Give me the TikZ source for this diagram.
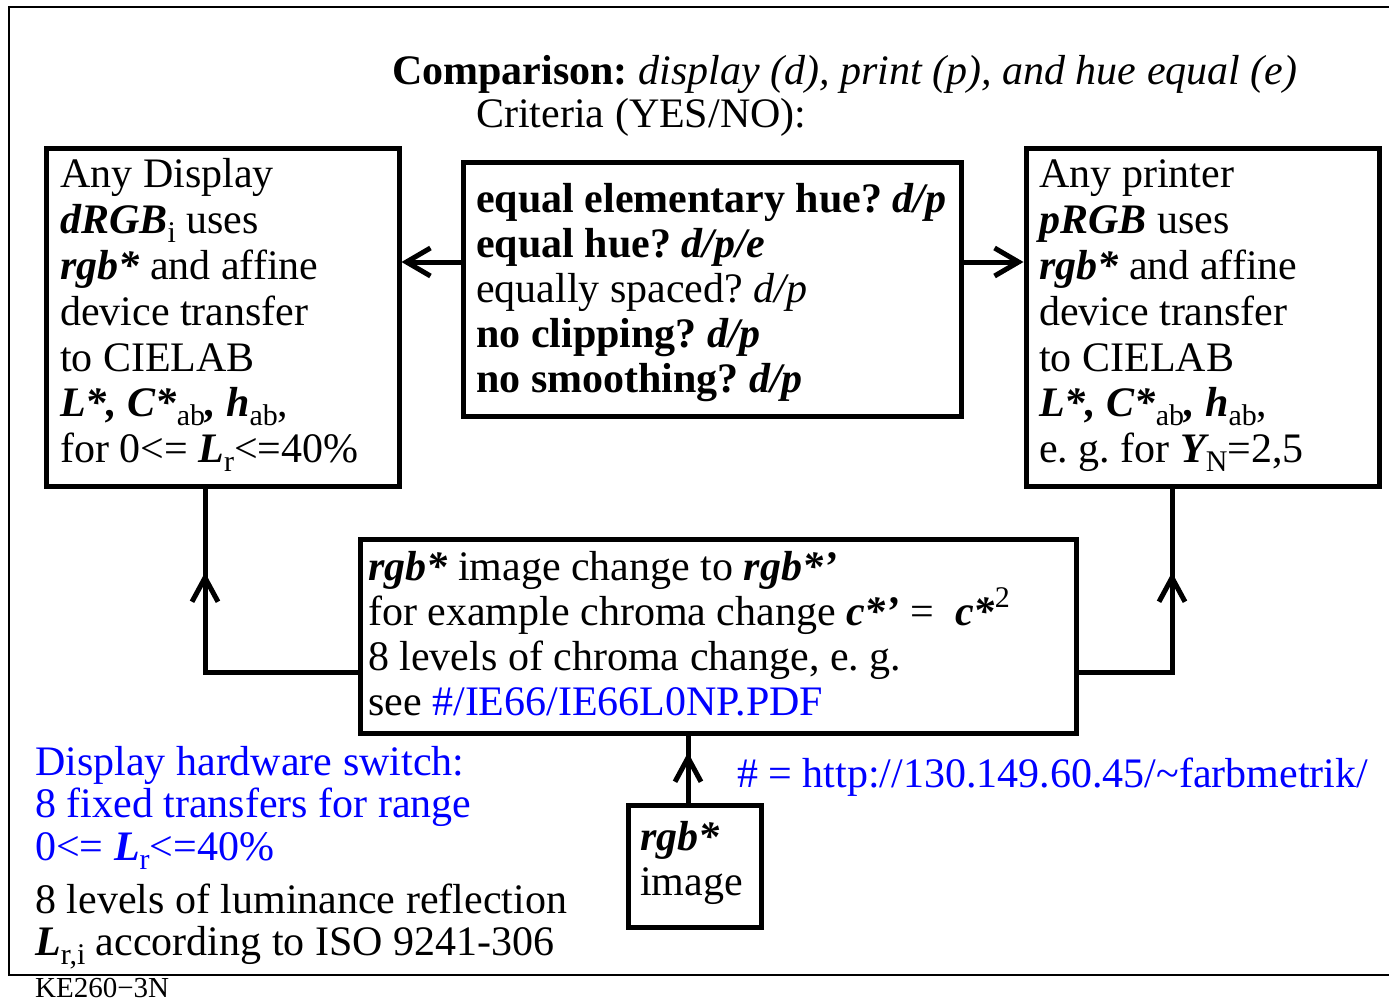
\documentclass[tikz,border=0pt]{standalone}
\usepackage{fontspec}
\setmainfont{Liberation Serif}
\usetikzlibrary{arrows.meta,decorations.markings}
\frenchspacing

% bold italic, subscript and superscript helpers
\newcommand\bi[1]{{\bfseries\itshape #1}}
\newcommand\dn[1]{\raisebox{-9pt}{\fontsize{30}{33}\selectfont\mdseries\upshape #1}}
\newcommand\up[1]{\raisebox{18pt}{\fontsize{30}{33}\selectfont\mdseries\upshape #1}}
% left-aligned lines with a fixed baseline distance; the baseline is that of the first line
\newcommand\textlines[2]{\vtop{\baselineskip=#1\lineskiplimit=-100pt\lineskip=0pt\halign{##\hfil\cr#2\crcr}}}

\definecolor{linkblue}{RGB}{0,0,255}

\begin{document}
\begin{tikzpicture}[x=1pt,y=-1pt,
  >={Straight Barb[length=24pt,width=28pt,line width=5pt]},
  box/.style={draw,line width=5pt,inner sep=0pt},
  txt/.style={anchor=base west,inner sep=0pt,font=\fontsize{42}{45.8}\selectfont},
  link/.style={line width=5pt},
  midarrow/.style={postaction={decorate,decoration={markings,
      mark=at position #1 with {\arrow{Straight Barb[length=24pt,width=26pt,line width=5pt]}}}}}
]
\useasboundingbox (0,0) rectangle (1389,1003);

% page frame
\draw[line width=2.5pt] (1389,7) -- (9,7) -- (9,975) -- (1389,975);

% heading
\node[txt] (title) at (392,85) {\textbf{Comparison:} \textit{display (d), print (p), and hue equal (e)}};
\node[txt] (crit) at (476,128) {Criteria (YES/NO):};

% boxes
\node[box,minimum width=353pt,minimum height=337pt] (lbox) at (222.5,317.5) {};
\node[box,minimum width=498pt,minimum height=253pt] (cbox) at (712,289.5) {};
\node[box,minimum width=353pt,minimum height=337pt] (rbox) at (1202.5,317.5) {};
\node[box,minimum width=716pt,minimum height=194pt] (bot) at (718,636) {};
\node[box,minimum width=133pt,minimum height=122pt] (img) at (694.5,866) {};

% box texts
\node[txt] (ltext) at (60,188) {\textlines{45.8pt}{%
Any Display\cr
\bi{dRGB}\dn{i} uses\cr
\bi{rgb*} and affine\cr
device transfer\cr
to CIELAB\cr
\bi{L*, C*}\dn{ab}\bi{,} \bi{h}\dn{ab},\cr
for 0<= \bi{L}\dn{r}<=40\%\cr}};

\node[txt] (ctext) at (476,212) {\textlines{45pt}{%
\textbf{equal elementary hue?} \bi{d/p}\cr
\textbf{equal hue?} \bi{d/p/e}\cr
equally spaced? \textit{d/p}\cr
\textbf{no clipping?} \bi{d/p}\cr
\textbf{no smoothing?} \bi{d/p}\cr}};

\node[txt] (rtext) at (1039,188) {\textlines{45.8pt}{%
Any printer\cr
\bi{pRGB} uses\cr
\bi{rgb*} and affine\cr
device transfer\cr
to CIELAB\cr
\bi{L*, C*}\dn{ab}\bi{,} \bi{h}\dn{ab},\cr
e. g. for \bi{Y}\dn{N}=2,5\cr}};

\node[txt] (btext) at (368,580) {\textlines{45pt}{%
\bi{rgb*} image change to \bi{rgb*’}\cr
for example chroma change \bi{c*’} = \ \bi{c*}\up{2}\cr
8 levels of chroma change, e. g.\cr
see {\color{linkblue}\#/IE66/IE66L0NP.PDF}\cr}};

\node[txt] (itext) at (640,850) {\textlines{45pt}{%
\bi{rgb*}\cr
image\cr}};

% notes
\node[txt,text=linkblue] (url) at (737,787) {\# = http://130.149.60.45/\textasciitilde farbmetrik/};
\node[txt] (hw) at (35,775) {\textlines{42.5pt}{%
\color{linkblue}Display hardware switch:\cr
\color{linkblue}8 fixed transfers for range\cr
\color{linkblue}0<= \bi{L}\dn{r}<=40\%\cr}};
\node[txt] (lum) at (35,913) {\textlines{42pt}{%
8 levels of luminance reflection\cr
\bi{L}\dn{r,i} according to ISO 9241-306\cr}};
\node[anchor=base west,inner sep=0pt,font=\fontsize{29}{32}\selectfont] (code) at (35,997) {KE260−3N};

% connectors
\draw[link,->] (cbox.west |- 0,262) -- (lbox.east |- 0,262);
\draw[link,->] (cbox.east |- 0,262) -- (rbox.west |- 0,262);
\coordinate (jl) at (205,672);
\coordinate (jr) at (1172,672);
\draw[link,midarrow=252pt] (bot.west |- jl) -- (jl) -- (lbox.south -| jl);
\draw[link,midarrow=193pt] (bot.east |- jr) -- (jr) -- (rbox.south -| jr);
\draw[link,midarrow=50pt] (img.north -| 688,0) -- (bot.south -| 688,0);
\end{tikzpicture}
\end{document}
